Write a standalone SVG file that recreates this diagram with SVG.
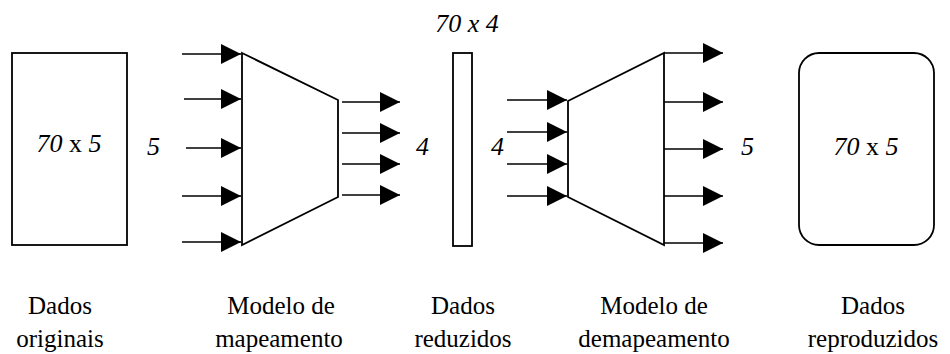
<svg xmlns="http://www.w3.org/2000/svg" width="950" height="354" viewBox="0 0 950 354">
  <style>
    .shape { fill: #fff; stroke: #000; stroke-width: 1.8; }
    .conn { stroke: #000; stroke-width: 1.6; fill: none; marker-end: url(#head); }
    text { font-family: 'Liberation Serif', 'Times New Roman', serif; fill: #000; }
    .dim { font-size: 26px; font-style: italic; }
    .up { font-style: normal; }
    .cap { font-size: 25px; text-anchor: middle; }
  </style>
  <defs>
    <marker id="head" markerUnits="userSpaceOnUse" markerWidth="20" markerHeight="20" refX="20" refY="10" orient="auto" overflow="visible">
      <path d="M0,0 L20,10 L0,20 Z" fill="#000"/>
    </marker>
  </defs>

  <!-- original data matrix -->
  <g id="dados-originais">
    <rect class="shape" x="12" y="53" width="115" height="192"/>
    <text class="dim" x="69" y="152" text-anchor="middle">70<tspan class="up"> x </tspan>5</text>
    <text class="cap" x="60" y="314">Dados</text>
    <text class="cap" x="60" y="347">originais</text>
  </g>

  <!-- mapping model -->
  <g id="modelo-mapeamento">
    <polygon class="shape" points="242,53 338,100 338,197 242,245"/>
    <text class="cap" x="281" y="314">Modelo de</text>
    <text class="cap" x="279" y="347">mapeamento</text>
  </g>

  <!-- reduced data -->
  <g id="dados-reduzidos">
    <rect class="shape" x="453" y="53" width="19" height="193"/>
    <text class="dim" x="467" y="32" text-anchor="middle">70 x 4</text>
    <text class="cap" x="463" y="314">Dados</text>
    <text class="cap" x="463" y="347">reduzidos</text>
  </g>

  <!-- demapping model -->
  <g id="modelo-demapeamento">
    <polygon class="shape" points="568,101 664,53 664,245 568,197"/>
    <text class="cap" x="654" y="314">Modelo de</text>
    <text class="cap" x="654" y="347">demapeamento</text>
  </g>

  <!-- reproduced data -->
  <g id="dados-reproduzidos">
    <rect class="shape" x="799" y="53" width="135" height="192" rx="20" ry="20"/>
    <text class="dim" x="866" y="155" text-anchor="middle">70<tspan class="up"> x </tspan>5</text>
    <text class="cap" x="873" y="314">Dados</text>
    <text class="cap" x="873" y="347">reproduzidos</text>
  </g>

  <!-- dimension counts -->
  <g id="contagens">
    <text class="dim" x="147" y="155">5</text>
    <text class="dim" x="416" y="155">4</text>
    <text class="dim" x="491" y="155">4</text>
    <text class="dim" x="741" y="155">5</text>
  </g>

  <!-- connectors -->
  <g id="connectors">
    <line class="conn" x1="182" y1="54" x2="241" y2="54"/>
    <line class="conn" x1="184" y1="99" x2="241" y2="99"/>
    <line class="conn" x1="186" y1="148" x2="241" y2="148"/>
    <line class="conn" x1="182" y1="196" x2="241" y2="196"/>
    <line class="conn" x1="182" y1="242" x2="241" y2="242"/>

    <line class="conn" x1="342" y1="102" x2="400" y2="102"/>
    <line class="conn" x1="342" y1="133" x2="400" y2="133"/>
    <line class="conn" x1="342" y1="164" x2="400" y2="164"/>
    <line class="conn" x1="342" y1="195" x2="400" y2="195"/>

    <line class="conn" x1="507" y1="100" x2="567" y2="100"/>
    <line class="conn" x1="507" y1="132" x2="567" y2="132"/>
    <line class="conn" x1="507" y1="164" x2="567" y2="164"/>
    <line class="conn" x1="507" y1="196" x2="567" y2="196"/>

    <line class="conn" x1="664" y1="53" x2="723" y2="53"/>
    <line class="conn" x1="664" y1="102" x2="723" y2="102"/>
    <line class="conn" x1="664" y1="149" x2="723" y2="149"/>
    <line class="conn" x1="664" y1="196" x2="723" y2="196"/>
    <line class="conn" x1="664" y1="243" x2="723" y2="243"/>
  </g>
</svg>
